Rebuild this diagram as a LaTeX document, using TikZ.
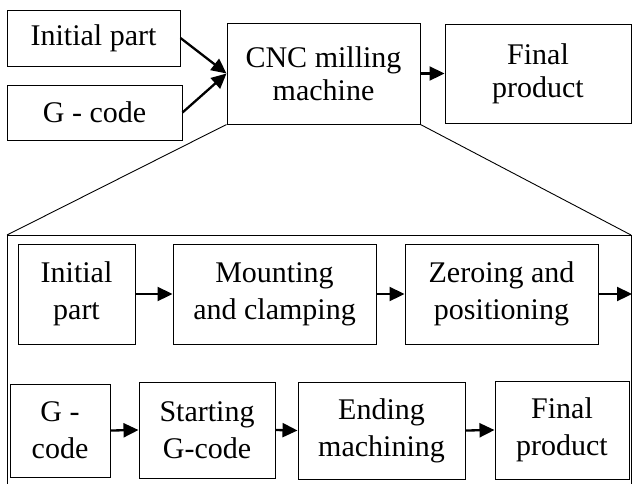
\documentclass[tikz,border=0pt]{standalone}
\usepackage{fontspec}
\setmainfont{Liberation Serif}
\usetikzlibrary{arrows.meta}
\begin{document}
\begin{tikzpicture}[x=1pt,y=-1pt,>={Triangle[length=15pt,width=14pt]},
    blk/.style={draw, line width=1pt, inner sep=0pt, align=center,
        font=\fontsize{30}{33}\selectfont},
    subblk/.style={blk, font=\fontsize{30}{37}\selectfont},
    flow/.style={->, line width=2.3pt},
    zoomline/.style={line width=0.9pt}]
    \useasboundingbox (0,0) rectangle (633,483);

    % draw the machine level
    \node[blk, minimum width=173pt, minimum height=56pt] (part) at (93.5,38) {Initial part};
    \node[blk, minimum width=175pt, minimum height=55pt] (gcode) at (94.5,112.5) {G - code};
    \node[blk, minimum width=193pt, minimum height=101pt] (cnc) at (323.5,73.5) {CNC milling\\machine};
    \node[blk, minimum width=186pt, minimum height=99pt] (final) at (538,73.5) {Final\\product};

    \draw[flow] (part.east) -- (cnc.west);
    \draw[flow] (gcode.east) -- (cnc.west);
    \draw[flow] (cnc.east) -- (final.west);

    % draw the zoomed frame
    \coordinate (frameNW) at (7,235);
    \coordinate (frameNE) at (631,235);
    \draw[zoomline] (cnc.south west) -- (frameNW);
    \draw[zoomline] (cnc.south east) -- (frameNE);
    \draw[line width=1pt] (7,490) -- (frameNW) -- (frameNE) -- (631,490);

    % first row
    \node[subblk, minimum width=117pt, minimum height=100pt] (part2) at (76.5,294) {Initial\\part};
    \node[subblk, minimum width=203pt, minimum height=100pt] (mount) at (274.5,294) {Mounting\\and clamping};
    \node[subblk, minimum width=193pt, minimum height=100pt] (zero) at (501.5,294) {Zeroing and\\positioning};
    \coordinate (rowend) at (632,294);

    \draw[flow] (part2.east) -- (mount.west);
    \draw[flow] (mount.east) -- (zero.west);
    \draw[flow] (zero.east) -- (rowend);

    % second row
    \node[subblk, minimum width=100pt, minimum height=93pt] (gcode2) at (60,430.5) {G -\\code};
    \node[subblk, minimum width=136pt, minimum height=96pt] (start) at (207,430) {Starting\\G-code};
    \node[subblk, minimum width=167pt, minimum height=97pt] (ending) at (381.5,430.5) {Ending\\machining};
    \node[subblk, minimum width=134pt, minimum height=98pt] (final2) at (562,430) {Final\\product};

    \draw[flow] (gcode2.east) -- (start.west);
    \draw[flow] (start.east) -- (ending.west);
    \draw[flow] (ending.east) -- (final2.west);

\end{tikzpicture}
\end{document}
